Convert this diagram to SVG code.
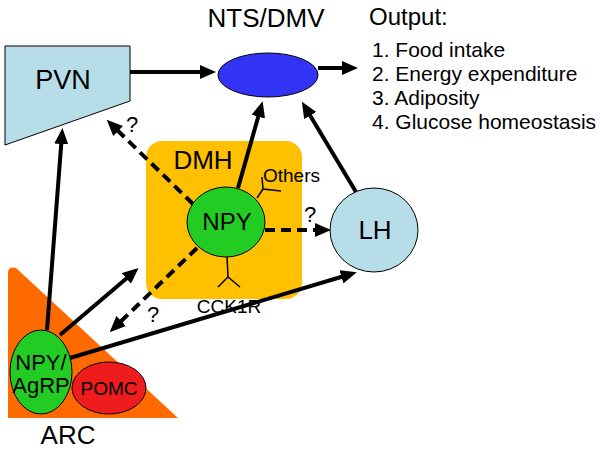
<svg xmlns="http://www.w3.org/2000/svg" width="600" height="450" viewBox="0 0 600 450">
<style>
text{font-family:"Liberation Sans",Arial,sans-serif;fill:#000;}
.lbl{font-size:26px;text-anchor:middle;}
.out{font-size:21px;}
.solid{stroke:#000;stroke-width:4;fill:none;marker-end:url(#ah);}
.dash{stroke:#000;stroke-width:4;fill:none;stroke-dasharray:10 6;marker-end:url(#ah);}
.rec{stroke:#000;stroke-width:1.5;fill:none;}
.q{font-size:22px;text-anchor:middle;}
</style>
<defs>
<marker id="ah" markerUnits="userSpaceOnUse" markerWidth="16" markerHeight="14" viewBox="0 0 16 14" refX="10" refY="7" orient="auto">
<path d="M0,0 L16,7 L0,14 z" fill="#000"/>
</marker>
</defs>

<g id="arc">
<path d="M8,273 Q8,266 16,268 L178,418 L8,418 z" fill="#ff6a00"/>
<text x="68" y="444" class="lbl">ARC</text>
</g>

<g id="dmh">
<rect x="146" y="141" width="156" height="158" rx="16" fill="#ffc000"/>
<text x="203" y="169" class="lbl">DMH</text>
</g>

<g id="pvn">
<path d="M5,46 L130,46 L130,101 L5,145 z" fill="#b7dee8" stroke="#000" stroke-width="1"/>
<text x="63" y="89" class="lbl" style="font-size:27px">PVN</text>
</g>

<g id="nts">
<ellipse cx="268" cy="75" rx="50" ry="22" fill="#3333f5" stroke="#000" stroke-width="1"/>
<text x="266" y="27" class="lbl">NTS/DMV</text>
</g>

<g id="output">
<text x="369" y="25" style="font-size:24px">Output:</text>
<text x="372" y="57" class="out">1. Food intake</text>
<text x="372" y="81" class="out">2. Energy expenditure</text>
<text x="372" y="105" class="out">3. Adiposity</text>
<text x="372" y="129" class="out">4. Glucose homeostasis</text>
</g>

<g id="lh">
<ellipse cx="374" cy="230" rx="44" ry="42" fill="#b7dee8" stroke="#000" stroke-width="1"/>
<text x="375" y="239" class="lbl">LH</text>
</g>

<g id="connectors">
<line x1="130" y1="72" x2="210" y2="72" class="solid"/>
<line x1="318" y1="68" x2="352" y2="68" class="solid"/>
<line x1="238" y1="188" x2="261" y2="107" class="solid"/>
<line x1="356" y1="192" x2="305" y2="107" class="solid"/>
<line x1="47" y1="330" x2="62" y2="134" class="solid"/>
<line x1="60" y1="335" x2="134" y2="272" class="solid"/>
<line x1="70" y1="358" x2="351" y2="274" class="solid"/>
<line x1="193" y1="204" x2="111" y2="124" class="dash"/>
<line x1="265" y1="230" x2="325" y2="230" class="dash"/>
<line x1="197" y1="248" x2="114" y2="328" class="dash"/>
</g>
<g id="qmarks">
<text x="132" y="132" class="q">?</text>
<text x="310" y="222" class="q">?</text>
<text x="153" y="322" class="q">?</text>
</g>

<g id="npy">
<line x1="227" y1="256" x2="228" y2="277" class="rec"/>
<path d="M218,287 L228,277 L240,287" class="rec"/>
<line x1="257" y1="198" x2="263" y2="189" class="rec"/>
<path d="M262,177 L263,189 L281,191" class="rec"/>
<ellipse cx="226" cy="222" rx="39" ry="35" fill="#22cc22" stroke="#000" stroke-width="1"/>
<text x="227" y="230" class="lbl" style="font-size:24px">NPY</text>
<text x="263" y="182" style="font-size:19px">Others</text>
<text x="229" y="313" style="font-size:19px;text-anchor:middle">CCK1R</text>
</g>

<g id="npy-agrp">
<ellipse cx="41" cy="372" rx="31" ry="42" fill="#22cc22" stroke="#000" stroke-width="1"/>
<text x="41" y="370" style="font-size:22px;text-anchor:middle">NPY/</text>
<text x="41" y="393" style="font-size:22px;text-anchor:middle">AgRP</text>
</g>

<g id="pomc">
<ellipse cx="109" cy="388" rx="37" ry="26" fill="#ee1c1c" stroke="#000" stroke-width="1"/>
<text x="109" y="395" style="font-size:19px;text-anchor:middle">POMC</text>
</g>
</svg>
